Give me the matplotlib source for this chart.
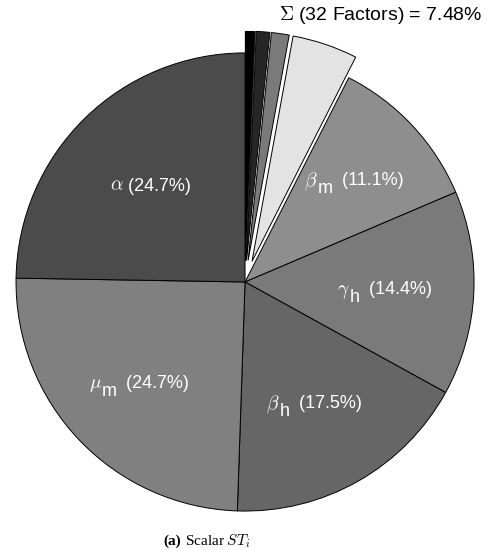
import matplotlib
matplotlib.use("Agg")
import matplotlib.pyplot as plt
from matplotlib.transforms import IdentityTransform
import numpy as np

plt.rcParams['mathtext.fontset'] = 'cm'
plt.rcParams['font.family'] = ['Liberation Sans', 'DejaVu Sans']

# 32 small factors (sum ~7.48 %): 29 tiny ones, then three visible ones
tiny_values = [0.03, 0.025, 0.02, 0.028, 0.022, 0.024, 0.02, 0.026, 0.021, 0.023,
               0.025, 0.02, 0.022, 0.027, 0.021, 0.024, 0.02, 0.023, 0.022, 0.025,
               0.02, 0.024, 0.021, 0.023, 0.022, 0.026, 0.02, 0.024, 0.022]
small_values = [0.95, 1.25, 4.6]
small_colors = ['#262626', '#7a7a7a', '#e3e3e3']

greek = [r'$\beta$', r'$\gamma$', r'$\beta$', r'$\mu$', r'$\alpha$']
subs = ['m', 'h', 'h', 'm', '']
values = [11.1, 14.4, 17.5, 24.7, 24.7]
colors = ['#8e8e8e', '#7a7a7a', '#666666', '#808080', '#4b4b4b']
label_r = [0.65, 0.61, 0.61, 0.64, 0.59]

title_text = r'$\Sigma$ (32 Factors) = 7.48%'
caption_bold = '(a)'
caption_rest = r'Scalar $ST_i$'

all_values = tiny_values + small_values + values
all_colors = ['#050505'] * len(tiny_values) + small_colors + colors
explode = [0.095] * (len(tiny_values) + len(small_values)) + [0.0] * len(values)

fig = plt.figure(figsize=(4.91, 5.5), dpi=100)
ax = fig.add_axes([0, 0, 1, 1])
wedges, _ = ax.pie(all_values, colors=all_colors, explode=explode, startangle=90,
                   counterclock=False, radius=1.0,
                   wedgeprops=dict(edgecolor='black', linewidth=0.7))
for w in wedges[:len(tiny_values)]:
    w.set_edgecolor('black')
    w.set_linewidth(0.3)
wedges[len(tiny_values) - 1].set_edgecolor('#555555')
wedges[len(tiny_values) - 1].set_linestyle((0, (2, 2)))
wedges[len(tiny_values) - 1].set_facecolor('#1c1c1c')

ax.set_xlim(-1.07, 1.074)
ax.set_ylim(-1.170, 1.231)
ax.set_aspect('auto')
ax.axis('off')

renderer = fig.canvas.get_renderer()
fs = 13
n0 = len(tiny_values) + len(small_values)
for i in range(len(values)):
    w = wedges[n0 + i]
    ang = np.deg2rad((w.theta1 + w.theta2) / 2)
    r = label_r[i]
    cx, cy = ax.transData.transform((r * np.cos(ang), r * np.sin(ang)))
    base = cy - 5
    pieces = []
    tg = fig.text(0, 0, greek[i], fontsize=fs + 1, color='white', va='baseline',
                  ha='left', transform=IdentityTransform())
    pieces.append((tg, 0, 0))
    if subs[i]:
        ts = fig.text(0, 0, subs[i], fontsize=fs, color='white', va='baseline',
                      ha='left', transform=IdentityTransform())
        pieces.append((ts, -8, 4))
    tv = fig.text(0, 0, f' ({values[i]:.1f}%)', fontsize=fs, color='white',
                  va='baseline', ha='left', transform=IdentityTransform())
    pieces.append((tv, 0, 0))
    widths = [p.get_window_extent(renderer).width + extra for p, _, extra in pieces]
    x = cx - sum(widths) / 2
    for (p, dy, _), wd in zip(pieces, widths):
        p.set_position((x, base + dy))
        x += wd

fig.text(0.983, 0.972, title_text, fontsize=14, ha='right', va='center', color='black')

fig.text(0.332, 0.016, caption_bold, fontsize=11, fontweight='bold', ha='left', va='center',
         family='Liberation Serif')
fig.text(0.376, 0.016, caption_rest, fontsize=11, ha='left', va='center',
         family='Liberation Serif')

fig.savefig('out.png', dpi=100)
